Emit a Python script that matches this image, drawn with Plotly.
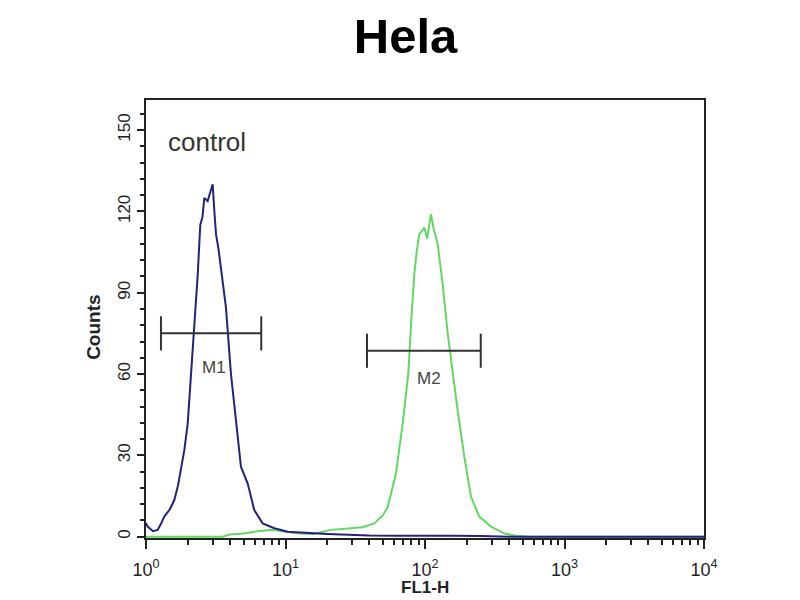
import numpy as np
import plotly.graph_objects as go

# histogram traces, x given as log10(FL1-H), y as counts
blue_log10 = [0.0, 0.012, 0.05, 0.084, 0.11, 0.131, 0.17, 0.203, 0.23, 0.251, 0.275, 0.299,
              0.323, 0.346, 0.371, 0.389, 0.405, 0.418, 0.442, 0.46, 0.478, 0.49, 0.502,
              0.52, 0.538, 0.573, 0.609, 0.645, 0.681, 0.729, 0.776, 0.836, 0.92, 1.016,
              1.1, 1.2, 1.3, 1.4, 1.5, 1.6, 1.8, 2.0, 2.2, 2.4, 2.6, 4.0]
blue_counts = [5, 3.7, 2, 2.5, 5, 7.4, 10, 13.5, 19, 25.7, 32, 41.7,
               60, 78.5, 96.8, 115, 118, 125, 123.8, 127, 130, 120, 111.5,
               106, 99, 84.6, 60, 41.7, 25.7, 19.6, 9.8, 4.9, 3.1, 1.8,
               1.5, 1.2, 1.0, 0.8, 0.5, 0.4, 0.3, 0.4, 0.3, 0.2, 0, 0]

green_log10 = [0.0, 0.55, 0.6, 0.7, 0.8, 0.9, 1.0, 1.1, 1.2, 1.326, 1.45, 1.55, 1.637,
               1.7, 1.733, 1.792, 1.84, 1.88, 1.9, 1.923, 1.94, 1.959, 1.995, 2.015,
               2.043, 2.06, 2.091, 2.127, 2.163, 2.199, 2.234, 2.282, 2.33, 2.389,
               2.473, 2.568, 2.65, 2.75, 4.0]
green_counts = [0, 0, 0.8, 1.2, 2.0, 2.5, 1.8, 1.2, 1.0, 2.5, 3.0, 3.5, 4.9,
                8, 11, 23.3, 41.7, 60, 78.5, 96.8, 105, 111.5, 114, 110,
                119, 114, 108, 93, 74.8, 60, 46.6, 29.4, 14.7, 7.4,
                3.7, 1.2, 0.3, 0, 0]

# marker gates: name, low, high, count level, label position
gate_names = ["M1", "M2"]
gate_low = [1.28, 38.4]
gate_high = [6.7, 251]
gate_level = [75, 68.6]
gate_label_x = [3.07, 107]
gate_label_y = [62.4, 58.3]
cap_half = 6.3

x_tickvals = [1, 10, 100, 1000, 10000]
x_ticktext = ["10<sup>0</sup>", "10<sup>1</sup>", "10<sup>2</sup>", "10<sup>3</sup>", "10<sup>4</sup>"]
y_tickvals = [0, 30, 60, 90, 120, 150]

fig = go.Figure()

fig.add_trace(go.Scatter(x=10 ** np.array(green_log10), y=green_counts, mode="lines",
                         line=dict(color="#62d862", width=2), hoverinfo="skip"))
fig.add_trace(go.Scatter(x=10 ** np.array(blue_log10), y=blue_counts, mode="lines",
                         line=dict(color="#23237c", width=2), hoverinfo="skip"))

for name, lo, hi, lvl, lx, ly in zip(gate_names, gate_low, gate_high, gate_level,
                                     gate_label_x, gate_label_y):
    gx = [lo, hi, None, lo, lo, None, hi, hi]
    gy = [lvl, lvl, None, lvl - cap_half, lvl + cap_half, None, lvl - cap_half, lvl + cap_half]
    fig.add_trace(go.Scatter(x=gx, y=gy, mode="lines", line=dict(color="#333333", width=2),
                             hoverinfo="skip"))
    fig.add_annotation(x=np.log10(lx), y=ly, text=name, showarrow=False,
                       font=dict(size=17, color="#444444"))

fig.add_annotation(x=np.log10(1.40), y=145.5, text="control", showarrow=False, xanchor="left",
                   font=dict(size=26, color="#333333"))

# axis titles placed as annotations for exact position
fig.add_annotation(xref="paper", yref="paper", x=-0.093, y=0.48, text="<b>Counts</b>",
                   xanchor="center", yanchor="middle",
                   textangle=-90, showarrow=False, font=dict(size=19, color="#222222"))
fig.add_annotation(xref="paper", yref="paper", x=0.5, y=-0.114, text="<b>FL1-H</b>",
                   xanchor="center", yanchor="middle",
                   showarrow=False, font=dict(size=17, color="#222222"))

fig.update_layout(
    width=800, height=600,
    margin=dict(l=138, r=104, t=92, b=70),
    paper_bgcolor="white", plot_bgcolor="white",
    showlegend=False,
    font=dict(family="Liberation Sans, Arial, sans-serif", color="#222222"),
    title=dict(text="<b>Hela</b>", x=0.497, xanchor="center", y=0.954, yanchor="middle",
               font=dict(size=49, color="black")),
)

fig.update_xaxes(
    type="log", range=[0, 4],
    tickvals=x_tickvals, ticktext=x_ticktext,
    ticks="outside", ticklen=9, tickwidth=1.5, tickcolor="#222222",
    minor=dict(ticks="outside", ticklen=5, tickcolor="#222222", dtick="D1", showgrid=False),
    showline=True, linecolor="#222222", linewidth=2, mirror=True,
    showgrid=False, zeroline=False,
    tickfont=dict(size=18),
    ticklabelstandoff=5,
)
fig.update_yaxes(
    range=[-0.5, 161.1],
    tickvals=y_tickvals, tickangle=-90,
    ticks="outside", ticklen=7, tickwidth=1.5, tickcolor="#222222",
    minor=dict(ticks="outside", ticklen=4, tickcolor="#222222", dtick=6, showgrid=False),
    showline=True, linecolor="#222222", linewidth=2, mirror=True,
    showgrid=False, zeroline=False,
    tickfont=dict(size=17),
)

fig.write_html("out.html")
